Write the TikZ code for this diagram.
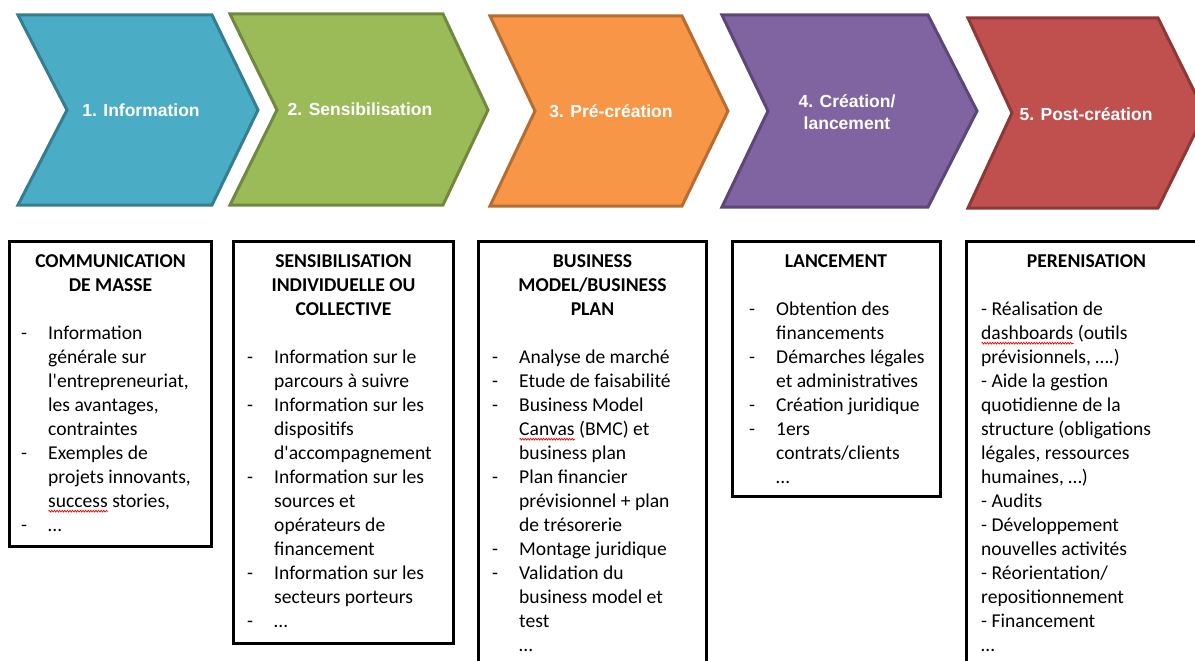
\documentclass[tikz,border=0pt]{standalone}
\usepackage{fontspec}
\setmainfont{Carlito}
\newfontfamily\arialfont{Liberation Sans}
\usetikzlibrary{positioning,decorations.pathmorphing}

\definecolor{infoblue}{HTML}{4BACC6}
\definecolor{infoblueline}{HTML}{357D91}
\definecolor{sensgreen}{HTML}{9BBB59}
\definecolor{sensgreenline}{HTML}{71893F}
\definecolor{preorange}{HTML}{F79646}
\definecolor{preorangeline}{HTML}{B66D31}
\definecolor{crepurple}{HTML}{8064A2}
\definecolor{crepurpleline}{HTML}{5C4776}
\definecolor{postred}{HTML}{C0504D}
\definecolor{postredline}{HTML}{8C3836}

\newcommand{\itemdash}{\strut\makebox[27pt][l]{-}}
\newcommand{\itemcont}{\strut\hspace*{27pt}}
\newsavebox{\spellbox}
\newcommand{\spellerr}[1]{\sbox{\spellbox}{#1}\rlap{\tikz[baseline=0pt]
   \draw[red, line width=0.7pt, decorate,
      decoration={zigzag, amplitude=0.9pt, segment length=2.6pt}]
      (0pt,-4pt) -- (\wd\spellbox,-4pt);}\usebox{\spellbox}}

\tikzset{
   stage/.style={line width=3pt, line join=miter},
   stagelabel/.style={text=white, inner sep=0pt, align=center,
      font=\arialfont\bfseries\fontsize{17.5}{22}\selectfont},
   infobox/.style={draw=black, line width=3pt, fill=white, outer sep=0pt,
      anchor=north west},
   boxtitle/.style={inner sep=0pt, align=center,
      font=\bfseries\fontsize{19.6}{24}\selectfont},
   boxbody/.style={inner sep=0pt, align=left,
      font=\fontsize{19.6}{24}\selectfont},
}

\begin{document}
\begin{tikzpicture}[x=1pt, y=-1pt]
   \useasboundingbox (0,0) rectangle (1195,661);
   % the five stages
   \filldraw[stage, fill=infoblue, draw=infoblueline]
      (18,15) -- (212,15) -- (258,110) -- (212,205) -- (18,205) -- (67,110) -- cycle;
   \filldraw[stage, fill=sensgreen, draw=sensgreenline]
      (230,14) -- (443,14) -- (488,110) -- (443,205) -- (230,205) -- (277,110) -- cycle;
   \filldraw[stage, fill=preorange, draw=preorangeline]
      (490,16) -- (682,16) -- (728,111) -- (682,206) -- (490,206) -- (535,111) -- cycle;
   \filldraw[stage, fill=crepurple, draw=crepurpleline]
      (722,15) -- (928,15) -- (977,111) -- (928,207) -- (722,207) -- (768,111) -- cycle;
   \filldraw[stage, fill=postred, draw=postredline]
      (968,18) -- (1158,18) -- (1205,113) -- (1158,208) -- (968,208) -- (1012,113) -- cycle;
   \node[stagelabel] (lab1) at (141,110) {1. Information};
   \node[stagelabel] (lab2) at (360,109) {2. Sensibilisation};
   \node[stagelabel] (lab3) at (611,111) {3. Pré-création};
   \node[stagelabel] (lab4) at (847,112) {4. Création/\\lancement};
   \node[stagelabel] (lab5) at (1086,114) {5. Post-création};

   % the boxes below
   \node[infobox, minimum width=202pt, minimum height=305pt] (box1) at (9.5,241.5) {};
   \node[infobox, minimum width=220pt, minimum height=402pt] (box2) at (233.5,241.5) {};
   \node[infobox, minimum width=228pt, minimum height=450pt] (box3) at (478.5,241.5) {};
   \node[infobox, minimum width=208pt, minimum height=255pt] (box4) at (732,241.5) {};
   \node[infobox, minimum width=240pt, minimum height=450pt] (box5) at (966.5,241.5) {};

   \node[boxtitle, below=8.7pt of box1.north] (title1) {\strut COMMUNICATION\\DE MASSE};
   \node[boxtitle, below=8.7pt of box2.north] (title2) {\strut SENSIBILISATION\\INDIVIDUELLE OU\\COLLECTIVE};
   \node[boxtitle, below=8.7pt of box3.north] (title3) {\strut BUSINESS\\MODEL/BUSINESS\\PLAN};
   \node[boxtitle, below=8.7pt of box4.north] (title4) {\strut LANCEMENT};
   \node[boxtitle, below=8.7pt of box5.north] (title5) {\strut PERENISATION};

   \node[boxbody, below right=80.7pt and 11.5pt of box1.north west] (body1) {
      \itemdash Information\\
      \itemcont générale sur\\
      \itemcont l\textquotesingle entrepreneuriat,\\
      \itemcont les avantages,\\
      \itemcont contraintes\\
      \itemdash Exemples de\\
      \itemcont projets innovants,\\
      \itemcont \spellerr{success} stories,\\
      \itemdash …};
   \node[boxbody, below right=104.7pt and 13.5pt of box2.north west] (body2) {
      \itemdash Information sur le\\
      \itemcont parcours à suivre\\
      \itemdash Information sur les\\
      \itemcont dispositifs\\
      \itemcont d\textquotesingle accompagnement\\
      \itemdash Information sur les\\
      \itemcont sources et\\
      \itemcont opérateurs de\\
      \itemcont financement\\
      \itemdash Information sur les\\
      \itemcont secteurs porteurs\\
      \itemdash …};
   \node[boxbody, below right=104.7pt and 13.5pt of box3.north west] (body3) {
      \itemdash Analyse de marché\\
      \itemdash Etude de faisabilité\\
      \itemdash Business Model\\
      \itemcont \spellerr{Canvas} (BMC) et\\
      \itemcont business plan\\
      \itemdash Plan financier\\
      \itemcont prévisionnel + plan\\
      \itemcont de trésorerie\\
      \itemdash Montage juridique\\
      \itemdash Validation du\\
      \itemcont business model et\\
      \itemcont test\\
      \itemcont …};
   \node[boxbody, below right=56.7pt and 17pt of box4.north west] (body4) {
      \itemdash Obtention des\\
      \itemcont financements\\
      \itemdash Démarches légales\\
      \itemcont et administratives\\
      \itemdash Création juridique\\
      \itemdash 1ers\\
      \itemcont contrats/clients\\
      \itemcont …};
   \node[boxbody, below right=56.7pt and 14.5pt of box5.north west] (body5) {
      \strut - Réalisation de\\
      \spellerr{dashboards} (outils\\
      prévisionnels, ….)\\
      - Aide la gestion\\
      quotidienne de la\\
      structure (obligations\\
      légales, ressources\\
      humaines, …)\\
      - Audits\\
      - Développement\\
      nouvelles activités\\
      - Réorientation/\\
      repositionnement\\
      - Financement\\
      …};
\end{tikzpicture}
\end{document}
